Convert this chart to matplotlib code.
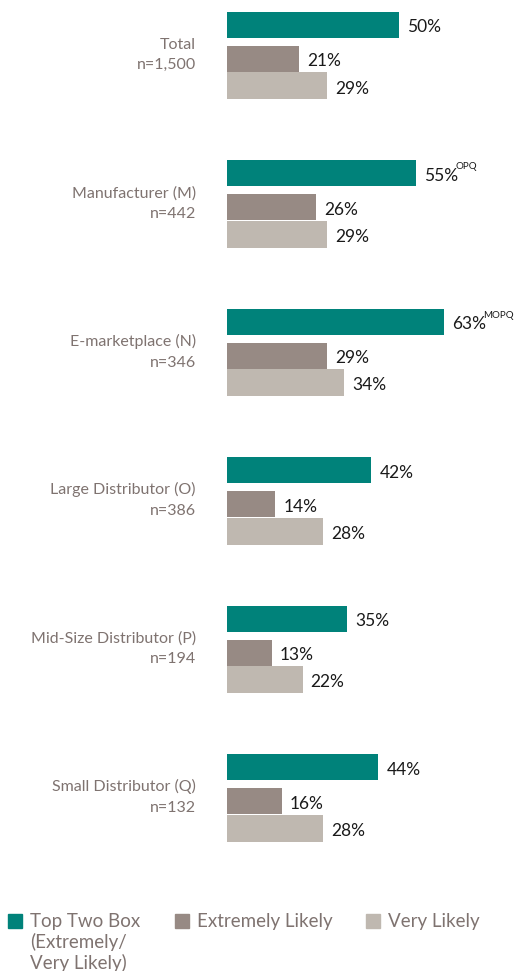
import numpy as np
import matplotlib.pyplot as plt
from matplotlib.patches import Rectangle

groups = ["Total", "Manufacturer (M)", "E-marketplace (N)", "Large Distributor (O)",
          "Mid-Size Distributor (P)", "Small Distributor (Q)"]
sizes = ["n=1,500", "n=442", "n=346", "n=386", "n=194", "n=132"]
top_two = [50, 55, 63, 42, 35, 44]
extremely = [21, 26, 29, 14, 13, 16]
very = [29, 29, 34, 28, 22, 28]
sig_letters = ["", "OPQ", "MOPQ", "", "", ""]

series_names = ["Top Two Box\n(Extremely/\nVery Likely)", "Extremely Likely", "Very Likely"]
colors = ["#00827a", "#978a84", "#bfb8b0"]
label_gray = "#7f7370"

plt.rcParams['font.family'] = ['Lato', 'DejaVu Sans']

W, H = 517, 971
fig = plt.figure(figsize=(W / 100, H / 100), dpi=100)
ax = fig.add_axes([227 / W, 1 - 900 / H, 344 / W, 900 / H])
ax.set_xlim(0, 100)
ax.set_ylim(900, 0)
ax.axis('off')

step = 148.4
offsets = [25, 59, 86]
heights = [26, 26, 27]
series = [top_two, extremely, very]

base = np.arange(len(groups)) * step
renderer = fig.canvas.get_renderer()
for s, vals in enumerate(series):
    ys = base + offsets[s]
    ax.barh(ys, vals, height=heights[s], color=colors[s], edgecolor='none')
    for i, v in enumerate(vals):
        t = ax.annotate(f"{v}%", (v, ys[i]), xytext=(8, -1), textcoords='offset pixels',
                        ha='left', va='center_baseline', fontsize=12.5, color='#1a1a1a')
        # significance letters as a superscript after the value
        if s == 0 and sig_letters[i]:
            w = t.get_window_extent(renderer).width
            ax.annotate(sig_letters[i], (v, ys[i]), xytext=(8 + w - 3, 2),
                        textcoords='offset pixels', ha='left', va='bottom',
                        fontsize=7, color='#1a1a1a')

# group names with sample sizes
for i, (g, n) in enumerate(zip(groups, sizes)):
    y = base[i] + 55
    ax.annotate(f"{g}\n{n}", (0, y), xytext=(-31, 0), textcoords='offset pixels',
                ha='right', va='center', fontsize=11.5, color=label_gray,
                linespacing=1.6, annotation_clip=False)

# legend
sq = 14
leg_x = [8, 175, 366]
for x, name, c in zip(leg_x, series_names, colors):
    fig.patches.append(Rectangle((x / W, 1 - 928 / H), sq / W, sq / H,
                                 transform=fig.transFigure, color=c))
    fig.text((x + 22) / W, 1 - 913 / H, name, ha='left', va='top',
             fontsize=13.5, color=label_gray, linespacing=1.2)

fig.savefig("out.png", dpi=100)
